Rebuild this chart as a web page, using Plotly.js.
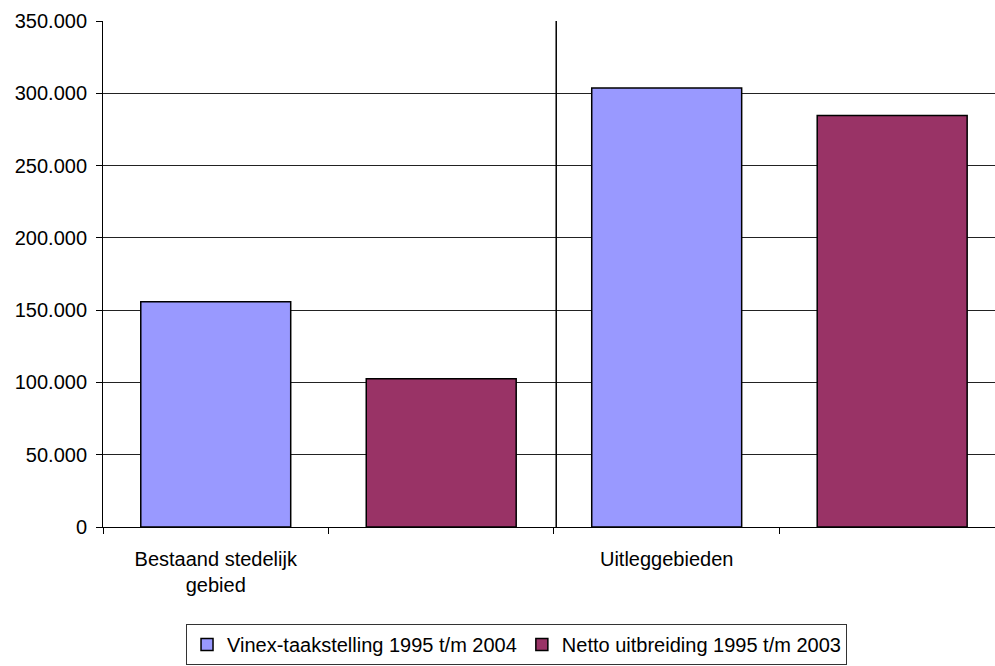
<!DOCTYPE html>
<html>
<head>
<meta charset="utf-8">
<script src="https://cdn.plot.ly/plotly-3.0.1.min.js"></script>
<style>
  html, body { margin: 0; padding: 0; background: #fff; }
  #chart { width: 995px; height: 666px; }
</style>
</head>
<body>
<div id="chart"></div>
<script>
// Category slots along the x axis (labels only on the first slot of each group)
const categories = ["Bestaand stedelijk<br>gebied", " ", "Uitleggebieden", "  "];

// Woningen per series
const vinexCategories = ["Bestaand stedelijk<br>gebied", "Uitleggebieden"];
const vinexValues = [155800, 303600];

const nettoCategories = [" ", "  "];
const nettoValues = [102600, 284600];

const seriesNames = ["Vinex-taakstelling 1995 t/m 2004", "Netto uitbreiding 1995 t/m 2003"];

const font = { family: "Liberation Sans, Arial, sans-serif", size: 20, color: "#000" };

const traces = [
  {
    type: "bar",
    name: seriesNames[0],
    x: vinexCategories,
    y: vinexValues,
    width: 0.665,
    marker: { color: "#9999FF", line: { color: "#000", width: 1.5 } }
  },
  {
    type: "bar",
    name: seriesNames[1],
    x: nettoCategories,
    y: nettoValues,
    width: 0.665,
    marker: { color: "#993366", line: { color: "#000", width: 1.5 } }
  }
];

const layout = {
  width: 995,
  height: 666,
  margin: { l: 103, r: 0, t: 21, b: 139, autoexpand: false },
  paper_bgcolor: "#fff",
  plot_bgcolor: "#fff",
  font: font,
  separators: ",.",
  barmode: "overlay",
  showlegend: true,
  xaxis: {
    type: "category",
    categoryorder: "array",
    categoryarray: categories,
    range: [-0.5, 3.456],
    tickson: "boundaries",
    ticks: "outside",
    ticklen: 6,
    tickcolor: "#000",
    ticklabelstandoff: 14,
    showline: true,
    linecolor: "#000",
    linewidth: 1,
    showgrid: false,
    zeroline: false,
    automargin: false,
    tickfont: font
  },
  yaxis: {
    range: [0, 350000],
    dtick: 50000,
    tickformat: ",d",
    ticks: "outside",
    ticklen: 6,
    tickcolor: "#000",
    ticklabelstandoff: 5,
    showline: true,
    linecolor: "#000",
    linewidth: 1,
    showgrid: true,
    gridcolor: "#222",
    gridwidth: 1,
    zeroline: false,
    automargin: false,
    tickfont: font
  },
  shapes: [
    {
      type: "line",
      xref: "x", yref: "paper",
      x0: 1.51, x1: 1.51, y0: 0, y1: 1,
      line: { color: "#000", width: 1.5 }
    }
  ],
  legend: {
    orientation: "h",
    x: 0.4636, xanchor: "center",
    y: -0.1917, yanchor: "top",
    bordercolor: "#333",
    borderwidth: 1,
    bgcolor: "#fff",
    itemwidth: 30,
    tracegroupgap: 0,
    font: { family: font.family, size: 20, color: "#000" }
  }
};

Plotly.newPlot("chart", traces, layout, { displayModeBar: false, staticPlot: true });
</script>
</body>
</html>
